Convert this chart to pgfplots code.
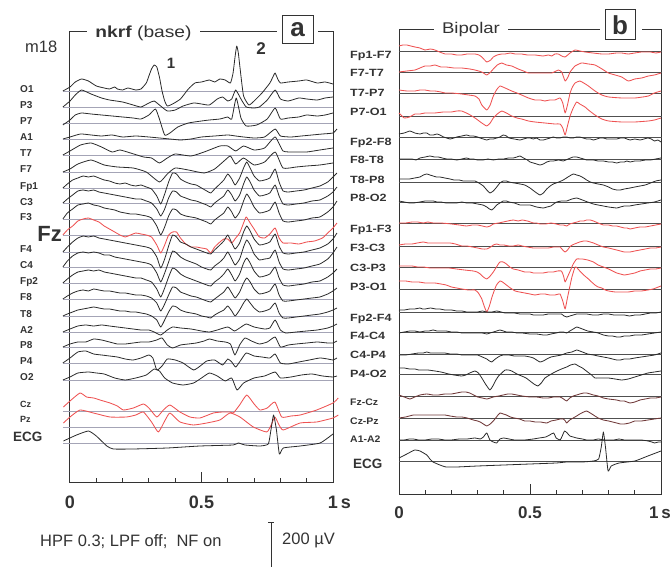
\documentclass[border=0pt]{standalone}
\usepackage{pgfplots}
\pgfplotsset{compat=1.18}
\usepackage{fontspec}
\setmainfont{Liberation Sans}
\definecolor{trcol}{HTML}{2A2A2A}
\definecolor{rdcol}{HTML}{EE5252}
\definecolor{blcol}{HTML}{A4A4B6}
\definecolor{bkcol}{HTML}{505050}
\definecolor{ax}{HTML}{333333}
\newcommand{\fs}[1]{\fontsize{#1}{#1}\selectfont}
\begin{document}
\begin{tikzpicture}[
  lab/.style={font=\bfseries\fs{10}, anchor=base west, inner sep=0pt, text=ax},
  rlab/.style={font=\bfseries\fs{10.5}, anchor=base west, inner sep=0pt, text=ax},
]
\useasboundingbox (0pt,0pt) rectangle (672pt,567pt);
\pgfplotsset{
  eeg/.style={scale only axis, xmin=0, xmax=1, clip=false,
    axis line style={ax, line width=1pt},
    xtick={0,0.5,1}, minor xtick={0.1,0.2,0.3,0.4,0.6,0.7,0.8,0.9},
    ytick=\empty, tick align=inside, xtick pos=bottom,
    major tick length=11pt, minor tick length=5pt,
    every tick/.style={ax, line width=1pt},
    /pgf/number format/assume math mode=true},
  off/.style={y filter/.expression={y-#1}},
  Ltr/.style={trcol, line width=0.8pt, line join=round, smooth, tension=0.3},
  Lrd/.style={rdcol, line width=0.85pt, line join=round, smooth, tension=0.3},
  Lmx/.style={trcol!65!rdcol, line width=0.85pt, line join=round, smooth, tension=0.3},
}
% ================= LEFT PANEL =================
\begin{axis}[eeg, at={(70pt,84pt)}, anchor=south west,
  width=263pt, height=451pt, ymin=-483, ymax=-32,
  xticklabels={0,0.5,1\rlap{\,s}},
  xticklabel style={font=\bfseries\fs{18}, inner sep=0pt, yshift=-12.5pt, text=ax}]
\pgfplotsinvokeforeach{91,107,123,139,155,172,188,203,219,235,252,267,283,299,316,332,347,363,380,411,427,443}{
  \addplot[blcol, line width=0.8pt] coordinates {(-0.027,-#1) (1,-#1)};
}
% O1
\addplot[Ltr, off=91] coordinates {(-0.027,0) (0.0,4) (0.02,9) (0.044,12) (0.07,10) (0.10,5) (0.13,3) (0.15,2) (0.17,4) (0.18,2) (0.2,1) (0.22,3) (0.25,1) (0.27,2) (0.29,8) (0.30,15) (0.31,22) (0.32,26) (0.33,24) (0.34,14) (0.35,0) (0.36,-10) (0.37,-15) (0.39,-13) (0.42,-8) (0.45,2) (0.475,8) (0.5,9) (0.53,11) (0.55,9) (0.57,12) (0.59,11) (0.61,8) (0.62,18) (0.628,35) (0.634,45) (0.64,38) (0.65,15) (0.66,-5) (0.68,-14) (0.70,-10) (0.73,-2) (0.76,8) (0.775,16) (0.78,18) (0.79,12) (0.80,8) (0.83,9) (0.87,10) (0.9,11) (0.94,8) (0.97,9) (1.0,7)};
% P3
\addplot[Ltr, off=107] coordinates {(-0.027,0) (0.0,6) (0.02,12) (0.044,17) (0.08,13) (0.12,9) (0.15,7) (0.2,5) (0.24,2) (0.27,0) (0.3,4) (0.32,6) (0.34,2) (0.37,-4) (0.40,-3) (0.43,1) (0.47,4) (0.5,3) (0.53,2) (0.56,8) (0.58,10) (0.60,6) (0.615,8) (0.63,17) (0.65,8) (0.67,0) (0.70,-1) (0.72,0) (0.75,7) (0.78,17) (0.80,8) (0.83,6) (0.87,9) (0.9,8) (0.94,7) (0.97,9) (1.0,10)};
% P7
\addplot[Ltr, off=123] coordinates {(-0.027,-2) (0.0,3) (0.02,8) (0.044,10) (0.08,9) (0.12,8) (0.16,7) (0.2,6) (0.24,5) (0.27,4) (0.30,8) (0.325,14) (0.34,4) (0.36,-12) (0.38,-10) (0.41,-4) (0.45,0) (0.5,2) (0.53,3) (0.57,4) (0.60,6) (0.615,4) (0.632,25) (0.65,5) (0.67,-3) (0.71,-2) (0.75,4) (0.78,15) (0.80,4) (0.83,5) (0.87,6) (0.9,8) (0.94,7) (0.97,8) (1.0,10)};
% A1
\addplot[Ltr, off=139] coordinates {(-0.027,0) (0.0,2) (0.04,5) (0.08,4) (0.12,3) (0.16,4) (0.2,2) (0.25,3) (0.3,2) (0.34,1) (0.38,0) (0.42,-1) (0.46,0) (0.5,2) (0.55,3) (0.6,4) (0.63,3) (0.66,2) (0.7,1) (0.74,2) (0.78,10) (0.80,3) (0.84,2) (0.88,3) (0.92,4) (0.96,5) (1.0,6) (1.015,10)};
% T7
\addplot[Ltr, off=155] coordinates {(-0.027,0) (0.0,4) (0.04,10) (0.08,12) (0.12,8) (0.16,3) (0.19,5) (0.23,2) (0.28,-2) (0.31,-3) (0.34,-8) (0.37,-3) (0.40,1) (0.46,-1) (0.51,3) (0.57,9) (0.6,9) (0.63,4) (0.66,9) (0.70,5) (0.74,7) (0.78,18) (0.81,4) (0.85,3) (0.9,3) (0.95,5) (1.0,7)};
% F7
\addplot[Ltr, off=172] coordinates {(-0.027,0) (0.0,3) (0.03,8) (0.08,12) (0.13,7) (0.18,5) (0.24,4) (0.29,0) (0.34,-10) (0.37,-2) (0.40,4) (0.45,2) (0.51,-1) (0.55,3) (0.59,12) (0.61,16) (0.63,8) (0.66,14) (0.70,7) (0.74,10) (0.78,20) (0.81,4) (0.86,5) (0.9,6) (0.95,7) (1.0,9)};
% Fp1
\addplot[Ltr, off=188] coordinates {(-0.027,0) (-0.01,4) (0.01,8) (0.03,10) (0.05,12) (0.07,11) (0.09,12) (0.11,10) (0.13,8) (0.15,7) (0.17,5) (0.19,4) (0.21,5) (0.23,3) (0.25,2) (0.27,3) (0.29,1) (0.31,-1) (0.33,-8) (0.345,-16) (0.36,-6) (0.375,6) (0.39,15) (0.405,14) (0.42,9) (0.44,6) (0.46,4) (0.48,3) (0.50,0) (0.52,-3) (0.535,-5) (0.55,-1) (0.57,4) (0.585,8) (0.60,14) (0.615,9) (0.628,3) (0.645,10) (0.66,20) (0.672,26) (0.685,20) (0.70,12) (0.72,7) (0.74,8) (0.76,10) (0.78,19) (0.795,6) (0.81,-3) (0.83,-4) (0.86,-3) (0.89,-2) (0.92,0) (0.95,2) (0.98,6) (1.0,11) (1.015,15)};
% C3
\addplot[Ltr, off=203] coordinates {(-0.027,0) (-0.01,4) (0.01,8) (0.03,12) (0.05,13) (0.07,12) (0.09,13) (0.11,11) (0.13,10) (0.15,9) (0.17,8) (0.19,7) (0.21,6) (0.23,5) (0.25,4) (0.27,4) (0.29,2) (0.31,0) (0.33,-6) (0.345,-13) (0.36,-6) (0.375,5) (0.39,12) (0.405,11) (0.42,7) (0.44,5) (0.46,3) (0.48,2) (0.50,0) (0.52,-2) (0.535,-4) (0.55,0) (0.57,4) (0.585,7) (0.60,13) (0.615,8) (0.628,2) (0.645,8) (0.66,19) (0.672,26) (0.685,21) (0.70,13) (0.72,7) (0.74,8) (0.76,10) (0.78,18) (0.795,7) (0.81,-1) (0.83,-2) (0.86,-1) (0.89,0) (0.92,2) (0.95,3) (0.98,7) (1.0,11) (1.015,16)};
% F3
\addplot[Ltr, off=219] coordinates {(-0.027,0) (-0.01,6) (0.01,10) (0.03,14) (0.05,15) (0.07,16) (0.09,14) (0.11,13) (0.13,11) (0.15,10) (0.17,9) (0.19,7) (0.21,6) (0.23,5) (0.25,5) (0.27,4) (0.29,3) (0.31,1) (0.33,-7) (0.345,-16) (0.36,-8) (0.375,3) (0.39,10) (0.405,9) (0.42,5) (0.44,3) (0.46,2) (0.48,1) (0.50,-1) (0.52,-3) (0.535,-5) (0.55,-1) (0.57,3) (0.585,6) (0.60,12) (0.615,7) (0.628,1) (0.645,7) (0.66,18) (0.672,25) (0.685,20) (0.70,12) (0.72,6) (0.74,7) (0.76,9) (0.78,17) (0.795,6) (0.81,-2) (0.83,-3) (0.86,-2) (0.89,-1) (0.92,1) (0.95,2) (0.98,7) (1.0,12) (1.015,18)};
% Fz (red)
\addplot[Lrd, off=235] coordinates {(-0.027,0) (-0.01,5) (0.01,9) (0.03,14) (0.05,16) (0.07,17) (0.09,15) (0.11,13) (0.13,9) (0.15,6) (0.17,3) (0.19,0) (0.21,-2) (0.23,0) (0.25,2) (0.27,1) (0.29,0) (0.31,-2) (0.33,-10) (0.345,-18) (0.36,-10) (0.375,0) (0.39,3) (0.405,3) (0.42,-3) (0.44,-9) (0.46,-12) (0.48,-12) (0.50,-13) (0.52,-14) (0.535,-18) (0.55,-12) (0.57,-7) (0.585,-4) (0.60,-4) (0.615,-8) (0.63,-3) (0.645,2) (0.66,12) (0.67,18) (0.685,12) (0.70,6) (0.72,-2) (0.74,-3) (0.76,1) (0.78,7) (0.795,-3) (0.81,-8) (0.84,-8) (0.87,-9) (0.9,-7) (0.93,-6) (0.96,-3) (0.98,2) (1.0,7) (1.015,12)};
% F4
\addplot[Ltr, off=252] coordinates {(-0.027,0) (-0.01,5) (0.01,10) (0.03,14) (0.05,16) (0.07,15) (0.09,16) (0.11,14) (0.13,13) (0.15,12) (0.17,11) (0.19,10) (0.21,9) (0.23,8) (0.25,7) (0.27,6) (0.29,5) (0.31,3) (0.33,-5) (0.345,-16) (0.36,-7) (0.375,6) (0.39,17) (0.405,15) (0.42,10) (0.44,8) (0.46,5) (0.48,3) (0.50,1) (0.52,-1) (0.535,-2) (0.55,2) (0.57,7) (0.585,11) (0.60,17) (0.615,9) (0.628,3) (0.645,9) (0.66,20) (0.672,26) (0.685,21) (0.70,13) (0.72,7) (0.74,8) (0.76,10) (0.78,18) (0.795,6) (0.81,-1) (0.83,-2) (0.86,-1) (0.89,0) (0.92,2) (0.95,4) (0.98,8) (1.0,13) (1.015,19)};
% C4
\addplot[Ltr, off=267] coordinates {(-0.027,0) (-0.01,6) (0.01,11) (0.03,14) (0.05,15) (0.07,14) (0.09,15) (0.11,14) (0.13,12) (0.15,12) (0.17,10) (0.19,9) (0.21,8) (0.23,7) (0.25,6) (0.27,5) (0.29,4) (0.31,2) (0.33,-6) (0.345,-15) (0.36,-6) (0.375,5) (0.39,16) (0.405,14) (0.42,10) (0.44,7) (0.46,5) (0.48,3) (0.50,0) (0.52,-2) (0.535,-3) (0.55,1) (0.57,5) (0.585,9) (0.60,15) (0.615,8) (0.628,2) (0.645,8) (0.66,20) (0.672,27) (0.685,22) (0.70,13) (0.72,7) (0.74,8) (0.76,9) (0.78,17) (0.795,5) (0.81,-2) (0.83,-3) (0.86,-2) (0.89,-1) (0.92,1) (0.95,3) (0.98,8) (1.0,14) (1.015,20)};
% Fp2
\addplot[Ltr, off=283] coordinates {(-0.027,0) (-0.01,4) (0.01,8) (0.03,11) (0.05,12) (0.07,13) (0.09,12) (0.11,13) (0.13,11) (0.15,10) (0.17,9) (0.19,8) (0.21,7) (0.23,6) (0.25,5) (0.27,5) (0.29,3) (0.31,1) (0.33,-6) (0.345,-14) (0.36,-5) (0.375,6) (0.39,15) (0.405,13) (0.42,9) (0.44,6) (0.46,4) (0.48,2) (0.50,0) (0.52,-2) (0.535,-3) (0.55,1) (0.57,5) (0.585,9) (0.60,14) (0.615,8) (0.628,2) (0.645,9) (0.66,20) (0.672,25) (0.685,20) (0.70,12) (0.72,6) (0.74,7) (0.76,9) (0.78,16) (0.795,5) (0.81,-2) (0.83,-3) (0.86,-2) (0.89,-1) (0.92,1) (0.95,2) (0.98,6) (1.0,10) (1.015,14)};
% F8
\addplot[Ltr, off=299] coordinates {(-0.027,0) (-0.01,3) (0.01,6) (0.03,8) (0.05,9) (0.07,8) (0.09,10) (0.11,9) (0.13,8) (0.15,8) (0.17,7) (0.19,6) (0.21,6) (0.23,5) (0.25,4) (0.27,4) (0.29,3) (0.31,1) (0.33,-4) (0.345,-12) (0.36,-5) (0.375,4) (0.39,12) (0.405,11) (0.42,7) (0.44,5) (0.46,3) (0.48,2) (0.50,0) (0.52,-2) (0.535,-3) (0.55,0) (0.57,4) (0.585,7) (0.60,12) (0.615,6) (0.628,1) (0.645,7) (0.66,16) (0.672,21) (0.685,17) (0.70,10) (0.72,5) (0.74,6) (0.76,8) (0.78,15) (0.795,4) (0.81,-2) (0.83,-2) (0.86,-1) (0.89,0) (0.92,1) (0.95,2) (0.98,5) (1.0,8) (1.015,11)};
% T8
\addplot[Ltr, off=316] coordinates {(-0.027,0) (-0.01,2) (0.01,4) (0.03,6) (0.05,7) (0.07,8) (0.09,9) (0.11,8) (0.13,7) (0.15,7) (0.17,6) (0.19,5) (0.21,5) (0.23,4) (0.25,4) (0.27,3) (0.29,2) (0.31,0) (0.33,-4) (0.345,-11) (0.36,-4) (0.375,4) (0.39,10) (0.405,9) (0.42,6) (0.44,4) (0.46,3) (0.48,2) (0.50,0) (0.52,-1) (0.535,-2) (0.55,1) (0.57,4) (0.585,6) (0.60,10) (0.615,5) (0.628,0) (0.645,6) (0.66,13) (0.672,17) (0.685,13) (0.70,8) (0.72,4) (0.74,5) (0.76,7) (0.78,13) (0.795,3) (0.81,-2) (0.83,-2) (0.86,-1) (0.89,0) (0.92,1) (0.95,2) (0.98,4) (1.0,6) (1.015,8)};
% A2
\addplot[Ltr, off=332] coordinates {(-0.027,0) (0.0,3) (0.03,6) (0.06,7) (0.09,6) (0.12,7) (0.15,6) (0.18,5) (0.21,4) (0.24,3) (0.27,2) (0.30,2) (0.32,0) (0.345,-3) (0.37,2) (0.39,5) (0.42,4) (0.46,3) (0.50,1) (0.53,0) (0.56,2) (0.6,5) (0.625,1) (0.645,4) (0.67,8) (0.70,5) (0.74,3) (0.76,4) (0.78,12) (0.80,2) (0.82,-1) (0.86,0) (0.9,1) (0.94,2) (0.98,4) (1.0,6) (1.015,8)};
% P8
\addplot[Ltr, off=347] coordinates {(-0.027,0) (0.0,3) (0.03,5) (0.06,5) (0.09,8) (0.12,7) (0.15,5) (0.18,3) (0.21,3) (0.24,4) (0.27,5) (0.30,5) (0.33,7) (0.35,9) (0.37,2) (0.39,-1) (0.42,2) (0.45,3) (0.48,4) (0.51,6) (0.53,8) (0.56,6) (0.59,5) (0.61,3) (0.627,-8) (0.645,2) (0.665,9) (0.69,6) (0.72,3) (0.75,5) (0.78,10) (0.80,0) (0.83,2) (0.86,3) (0.9,4) (0.94,5) (0.98,4) (1.0,4) (1.015,6)};
% P4
\addplot[Ltr, off=363] coordinates {(-0.027,0) (0.0,5) (0.03,11) (0.06,12) (0.09,9) (0.12,8) (0.15,7) (0.18,6) (0.21,4) (0.24,3) (0.27,5) (0.30,8) (0.315,5) (0.33,-7) (0.35,-3) (0.37,4) (0.40,3) (0.43,0) (0.47,-7) (0.50,-2) (0.52,2) (0.55,3) (0.58,-2) (0.60,4) (0.615,1) (0.63,-4) (0.65,3) (0.67,10) (0.70,7) (0.73,6) (0.76,5) (0.78,9) (0.80,0) (0.83,-1) (0.87,1) (0.91,3) (0.95,5) (0.98,4) (1.0,3) (1.015,5)};
% O2
\addplot[Ltr, off=380] coordinates {(-0.027,0) (0.0,3) (0.03,7) (0.07,8) (0.10,7) (0.13,6) (0.17,2) (0.21,0) (0.25,2) (0.29,5) (0.32,11) (0.34,9) (0.36,2) (0.39,-3) (0.43,-5) (0.47,-3) (0.50,2) (0.53,7) (0.56,4) (0.59,-1) (0.615,2) (0.635,-10) (0.66,-3) (0.70,2) (0.74,4) (0.78,8) (0.80,2) (0.84,3) (0.88,5) (0.92,6) (0.96,4) (1.0,3) (1.015,4)};
% Cz (red)
\addplot[Lrd, off=411] coordinates {(-0.025,4) (0.0,10) (0.038,18) (0.063,14) (0.09,13) (0.114,11) (0.152,8) (0.18,5) (0.203,1) (0.241,3) (0.279,7) (0.30,3) (0.33,-6) (0.355,1) (0.38,6) (0.418,-1) (0.456,-6) (0.494,-7) (0.545,-2) (0.58,-1) (0.608,-1) (0.621,-2) (0.645,6) (0.672,16) (0.70,7) (0.722,1) (0.75,3) (0.779,9) (0.805,-6) (0.84,-5) (0.875,-4) (0.938,1) (1.0,8) (1.02,13)};
% Pz (red)
\addplot[Lrd, off=427] coordinates {(-0.025,4) (0.0,10) (0.038,17) (0.089,14) (0.152,10) (0.215,10) (0.25,12) (0.279,15) (0.31,5) (0.336,-5) (0.36,6) (0.38,14) (0.418,5) (0.469,2) (0.52,4) (0.57,7) (0.608,14) (0.646,10) (0.697,0) (0.748,-5) (0.765,2) (0.779,10) (0.795,2) (0.811,-3) (0.875,4) (0.938,5) (1.0,9) (1.02,12)};
% ECG
\addplot[Ltr, off=443] coordinates {(-0.025,2) (0.025,8) (0.07,12) (0.10,7) (0.14,-3) (0.165,-6) (0.24,-6) (0.37,-5) (0.494,-3) (0.62,-2) (0.64,0) (0.665,-2) (0.722,-3) (0.754,-1) (0.764,13) (0.774,28) (0.785,13) (0.796,-11) (0.811,-5) (0.875,-3) (0.951,0) (1.0,9)};
% labels
\node[lab] at (axis cs:-0.19,-92.5) {O1};
\node[lab] at (axis cs:-0.19,-108.5) {P3};
\node[lab] at (axis cs:-0.19,-124.5) {P7};
\node[lab] at (axis cs:-0.19,-140.5) {A1};
\node[lab] at (axis cs:-0.19,-156.5) {T7};
\node[lab] at (axis cs:-0.19,-172.5) {F7};
\node[lab] at (axis cs:-0.19,-189.5) {Fp1};
\node[lab] at (axis cs:-0.19,-205.5) {C3};
\node[lab] at (axis cs:-0.19,-220.5) {F3};
\node[lab, font=\bfseries\fs{22}] at (axis cs:-0.125,-242) {Fz};
\node[lab] at (axis cs:-0.19,-252.5) {F4};
\node[lab] at (axis cs:-0.19,-268.5) {C4};
\node[lab] at (axis cs:-0.19,-284.5) {Fp2};
\node[lab] at (axis cs:-0.19,-300.5) {F8};
\node[lab] at (axis cs:-0.19,-317.5) {T8};
\node[lab] at (axis cs:-0.19,-333.5) {A2};
\node[lab] at (axis cs:-0.19,-348.5) {P8};
\node[lab] at (axis cs:-0.19,-364.5) {P4};
\node[lab] at (axis cs:-0.19,-380.5) {O2};
\node[lab, font=\bfseries\fs{9}] at (axis cs:-0.19,-408) {Cz};
\node[lab, font=\bfseries\fs{9}] at (axis cs:-0.19,-423) {Pz};
\node[lab, font=\bfseries\fs{13.5}] at (axis cs:-0.217,-442) {ECG};
\end{axis}
% ================= RIGHT PANEL =================
\begin{axis}[eeg, at={(399pt,72pt)}, anchor=south west,
  width=262pt, height=465pt, ymin=-495, ymax=-30,
  xticklabels={0,0.5,{}},
  xticklabel style={font=\bfseries\fs{17}, inner sep=0pt, yshift=-11.5pt, text=ax}]
\pgfplotsinvokeforeach{51,72,93,116,137,159,182,202,223,246,267,289,312,332,354,374,396,418,440,461}{
  \addplot[bkcol, line width=0.75pt] coordinates {(0,-#1) (1.004,-#1)};
}
% Fp1-F7
\addplot[Lrd, off=51] coordinates {(0,5) (0.015,6) (0.03,6) (0.045,5) (0.061,4) (0.08,3) (0.099,1) (0.12,2) (0.137,1) (0.155,-1) (0.176,-3) (0.2,-3) (0.22,-4) (0.239,-4) (0.26,-3) (0.29,-3) (0.305,-4) (0.316,-6) (0.335,-11) (0.35,-9) (0.36,-6) (0.375,-4) (0.392,-3) (0.405,-3) (0.425,-2) (0.443,-3) (0.468,-3) (0.49,-4) (0.519,-4) (0.55,-5) (0.57,-4) (0.583,-5) (0.595,-3) (0.608,-3) (0.621,-5) (0.634,-6) (0.653,-2) (0.672,1) (0.69,0) (0.71,-1) (0.74,-2) (0.774,-3) (0.80,-3) (0.83,-2) (0.85,-2) (0.875,-3) (0.9,-2) (0.926,-1) (0.96,-1) (0.98,-2) (1.0,-1)};
% F7-T7
\addplot[Lrd, off=72] coordinates {(0,0) (0.03,1) (0.061,2) (0.08,4) (0.099,6) (0.12,6) (0.137,7) (0.16,5) (0.18,5) (0.21,4) (0.239,4) (0.27,3) (0.29,2) (0.316,0) (0.335,-3) (0.35,0) (0.36,3) (0.375,7) (0.392,9) (0.41,7) (0.43,6) (0.455,3) (0.475,1) (0.494,-1) (0.53,-1) (0.56,-1) (0.583,-1) (0.6,1) (0.608,2) (0.621,0) (0.634,-9) (0.645,-5) (0.653,0) (0.672,6) (0.697,9) (0.723,8) (0.748,7) (0.775,3) (0.799,-1) (0.825,-3) (0.85,-5) (0.875,-9) (0.9,-7) (0.926,-6) (0.952,-4) (0.975,-3) (1.0,-1)};
% T7-P7
\addplot[Lrd, off=93] coordinates {(0,3) (0.03,2) (0.061,2) (0.08,3) (0.099,3) (0.12,2) (0.137,2) (0.16,1) (0.176,0) (0.2,0) (0.239,-1) (0.265,-2) (0.29,-3) (0.305,-6) (0.316,-12) (0.335,-17) (0.348,-12) (0.36,-3) (0.372,3) (0.385,7) (0.405,5) (0.43,2) (0.45,0) (0.468,-2) (0.494,-5) (0.519,-7) (0.54,-7) (0.557,-8) (0.575,-7) (0.595,-7) (0.615,-5) (0.625,-10) (0.634,-20) (0.643,-12) (0.653,0) (0.662,6) (0.672,10) (0.69,12) (0.705,10) (0.723,7) (0.748,2) (0.774,-2) (0.80,-4) (0.85,-5) (0.9,-5) (0.93,-4) (0.952,-3) (0.975,0) (1.0,2)};
% P7-O1
\addplot[Lrd, off=116] coordinates {(0,3) (0.02,-2) (0.04,-1) (0.061,2) (0.08,2) (0.099,3) (0.12,3) (0.137,3) (0.17,4) (0.2,4) (0.22,5) (0.239,5) (0.265,2) (0.29,-2) (0.316,-7) (0.335,-10) (0.348,-7) (0.36,-2) (0.375,2) (0.392,5) (0.41,3) (0.43,0) (0.45,-2) (0.468,-3) (0.494,-5) (0.519,-6) (0.557,-7) (0.595,-8) (0.615,-8) (0.625,-12) (0.634,-19) (0.643,-10) (0.653,0) (0.665,8) (0.678,14) (0.69,12) (0.71,9) (0.723,6) (0.748,1) (0.774,-3) (0.80,-5) (0.85,-6) (0.9,-6) (0.952,-5) (0.975,-4) (1.0,-2)};
% Fp2-F8
\addplot[Ltr, off=137] coordinates {(0,3) (0.02,4) (0.042,6) (0.06,4) (0.08,3) (0.093,4) (0.106,4) (0.118,2) (0.131,2) (0.145,3) (0.156,2) (0.17,0) (0.182,-1) (0.195,-2) (0.21,-1) (0.22,0) (0.24,1) (0.258,2) (0.27,1) (0.284,1) (0.3,0) (0.309,-1) (0.322,-2) (0.335,-3) (0.347,-2) (0.36,-2) (0.373,-1) (0.385,0) (0.398,2) (0.41,1) (0.42,-1) (0.44,-2) (0.462,-3) (0.475,-2) (0.49,-1) (0.5,-1) (0.513,-2) (0.525,-1) (0.538,-3) (0.551,-3) (0.564,-2) (0.577,-1) (0.589,0) (0.602,-1) (0.615,-1) (0.627,0) (0.64,0) (0.653,-1) (0.665,-1) (0.678,0) (0.69,0) (0.703,-1) (0.716,-2) (0.73,-2) (0.742,-3) (0.755,-2) (0.767,-1) (0.78,-1) (0.793,-2) (0.81,-2) (0.831,-2) (0.845,-1) (0.86,-1) (0.87,-2) (0.882,-3) (0.9,-2) (0.92,-3) (0.935,-2) (0.95,-1) (0.963,-2) (0.975,-4) (0.988,-3) (1.0,-5)};
% F8-T8
\addplot[Ltr, off=159] coordinates {(0,0) (0.025,0) (0.05,0) (0.065,-1) (0.08,1) (0.1,2) (0.118,3) (0.135,2) (0.15,2) (0.165,1) (0.182,0) (0.2,0) (0.22,-1) (0.24,0) (0.258,1) (0.27,0) (0.284,0) (0.3,-1) (0.32,-1) (0.34,0) (0.36,-1) (0.38,0) (0.4,0) (0.418,1) (0.436,1) (0.45,2) (0.462,3) (0.475,1) (0.49,-1) (0.5,-3) (0.513,-4) (0.525,-5) (0.538,-6) (0.551,-5) (0.564,-3) (0.577,-2) (0.589,-2) (0.61,-1) (0.627,-2) (0.645,0) (0.665,2) (0.678,2) (0.691,1) (0.705,0) (0.716,-1) (0.73,-1) (0.742,-1) (0.76,-2) (0.78,-2) (0.8,-3) (0.815,-3) (0.831,-4) (0.845,-3) (0.86,-3) (0.87,-2) (0.882,-3) (0.9,-2) (0.92,-2) (0.94,-1) (0.96,-1) (0.98,0) (1.0,1)};
% T8-P8
\addplot[Ltr, off=182] coordinates {(0,3) (0.02,3) (0.04,3) (0.06,4) (0.08,5) (0.093,7) (0.106,8) (0.118,7) (0.13,6) (0.143,5) (0.156,5) (0.175,4) (0.195,3) (0.21,2) (0.23,2) (0.245,1) (0.258,1) (0.275,1) (0.29,1) (0.305,-1) (0.322,-4) (0.335,-8) (0.347,-11) (0.36,-9) (0.373,-5) (0.385,-1) (0.398,1) (0.41,1) (0.42,0) (0.44,-1) (0.462,-2) (0.48,-3) (0.5,-6) (0.52,-10) (0.538,-13) (0.551,-11) (0.564,-7) (0.577,-4) (0.589,-2) (0.61,0) (0.627,2) (0.645,5) (0.665,8) (0.678,7) (0.691,6) (0.705,4) (0.716,2) (0.73,0) (0.742,-1) (0.76,-2) (0.78,-3) (0.8,-5) (0.815,-7) (0.831,-8) (0.845,-8) (0.86,-7) (0.882,-6) (0.9,-5) (0.92,-4) (0.94,-3) (0.96,-1) (0.98,1) (1.0,2)};
% P8-O2
\addplot[Ltr, off=202] coordinates {(0,1) (0.02,0) (0.04,-1) (0.055,-1) (0.08,0) (0.1,1) (0.115,1) (0.131,1) (0.145,0) (0.16,0) (0.18,-1) (0.2,-1) (0.22,-1) (0.24,0) (0.258,-1) (0.28,-1) (0.3,-2) (0.32,-3) (0.335,-5) (0.345,-7) (0.354,-8) (0.363,-6) (0.373,-3) (0.385,-1) (0.398,1) (0.41,1) (0.42,0) (0.44,-1) (0.462,-3) (0.48,-3) (0.5,-3) (0.525,-5) (0.551,-6) (0.565,-5) (0.58,-4) (0.59,-2) (0.602,0) (0.62,1) (0.64,1) (0.66,3) (0.678,4) (0.69,3) (0.7,2) (0.72,0) (0.742,-2) (0.76,-3) (0.78,-4) (0.8,-5) (0.831,-6) (0.845,-5) (0.86,-4) (0.88,-4) (0.9,-3) (0.925,-2) (0.95,-1) (0.975,0) (1.0,2)};
% Fp1-F3
\addplot[Lrd, off=223] coordinates {(0,0) (0.025,0) (0.05,1) (0.07,1) (0.093,0) (0.11,1) (0.13,0) (0.16,0) (0.2,-1) (0.23,-2) (0.258,-3) (0.28,-2) (0.3,-2) (0.318,-3) (0.335,-4) (0.348,-3) (0.36,-1) (0.38,0) (0.398,1) (0.415,2) (0.436,3) (0.455,2) (0.47,3) (0.49,2) (0.513,0) (0.525,0) (0.538,-1) (0.56,-1) (0.58,0) (0.6,-1) (0.615,-2) (0.628,-2) (0.64,-3) (0.652,-1) (0.665,0) (0.68,1) (0.691,2) (0.705,2) (0.716,3) (0.73,3) (0.742,2) (0.76,0) (0.78,-2) (0.8,-2) (0.815,-3) (0.831,-3) (0.845,-4) (0.86,-5) (0.87,-5) (0.882,-6) (0.9,-5) (0.92,-4) (0.94,-4) (0.96,-3) (0.98,-2) (1.0,-1)};
% F3-C3
\addplot[Lrd, off=246] coordinates {(0,1) (0.025,2) (0.05,2) (0.07,3) (0.093,4) (0.11,3) (0.13,3) (0.16,3) (0.195,3) (0.215,2) (0.24,0) (0.26,0) (0.28,-1) (0.3,-2) (0.318,-3) (0.335,-3) (0.35,-1) (0.36,1) (0.373,2) (0.385,1) (0.4,1) (0.42,0) (0.436,0) (0.455,1) (0.47,0) (0.49,-1) (0.513,-2) (0.53,-2) (0.55,-2) (0.57,-2) (0.59,-1) (0.605,-1) (0.615,-1) (0.625,-4) (0.634,-6) (0.643,-4) (0.655,0) (0.67,2) (0.69,4) (0.705,5) (0.716,5) (0.73,4) (0.742,3) (0.76,1) (0.78,-1) (0.8,-2) (0.815,-3) (0.831,-4) (0.845,-5) (0.86,-6) (0.882,-6) (0.9,-5) (0.92,-4) (0.94,-3) (0.96,-2) (0.98,-2) (1.0,-1)};
% C3-P3
\addplot[Lrd, off=267] coordinates {(0,1) (0.025,1) (0.05,1) (0.07,0) (0.093,0) (0.12,-1) (0.156,-1) (0.19,-1) (0.22,-2) (0.25,-3) (0.284,-4) (0.298,-5) (0.31,-7) (0.322,-10) (0.335,-12) (0.348,-9) (0.36,-5) (0.372,0) (0.385,5) (0.398,5) (0.41,3) (0.423,0) (0.436,-2) (0.455,-3) (0.48,-5) (0.5,-5) (0.513,-6) (0.53,-6) (0.55,-6) (0.57,-5) (0.589,-5) (0.605,-4) (0.62,-4) (0.628,-9) (0.634,-15) (0.643,-10) (0.655,-3) (0.665,3) (0.678,8) (0.69,8) (0.7,8) (0.72,7) (0.742,5) (0.76,2) (0.78,0) (0.8,-2) (0.815,-4) (0.831,-6) (0.845,-7) (0.86,-8) (0.882,-7) (0.9,-6) (0.92,-4) (0.94,-3) (0.96,-2) (0.98,-2) (1.0,-1)};
% P3-O1
\addplot[Lrd, off=289] coordinates {(0,8) (0.025,8) (0.05,7) (0.075,7) (0.1,6) (0.12,6) (0.137,6) (0.16,5) (0.18,4) (0.2,2) (0.22,1) (0.24,0) (0.265,-1) (0.29,-1) (0.303,-4) (0.316,-10) (0.325,-17) (0.335,-23) (0.345,-17) (0.355,-8) (0.363,-2) (0.372,4) (0.385,8) (0.395,7) (0.41,4) (0.425,1) (0.443,-2) (0.46,-3) (0.48,-4) (0.5,-5) (0.519,-6) (0.54,-5) (0.557,-5) (0.575,-6) (0.595,-6) (0.61,-5) (0.615,-5) (0.625,-12) (0.634,-20) (0.642,-10) (0.65,0) (0.66,12) (0.672,22) (0.68,21) (0.69,18) (0.705,14) (0.723,10) (0.735,7) (0.748,4) (0.76,2) (0.774,1) (0.787,-1) (0.80,-2) (0.825,-3) (0.85,-3) (0.875,-3) (0.9,-2) (0.925,-2) (0.95,-1) (0.97,0) (0.99,2) (1.0,3)};
% Fp2-F4
\addplot[Ltr, off=312] coordinates {(0,2) (0.02,2) (0.042,3) (0.06,3) (0.08,4) (0.09,3) (0.1,3) (0.12,4) (0.14,3) (0.156,3) (0.175,2) (0.2,2) (0.22,1) (0.24,1) (0.258,0) (0.28,0) (0.3,0) (0.318,1) (0.335,0) (0.355,0) (0.373,1) (0.39,0) (0.405,-1) (0.42,-1) (0.44,-1) (0.462,-2) (0.48,-2) (0.5,-2) (0.513,-3) (0.53,-3) (0.55,-3) (0.57,-2) (0.59,-2) (0.605,-2) (0.62,-2) (0.63,-4) (0.64,-5) (0.652,-4) (0.665,-3) (0.678,-2) (0.69,-2) (0.705,-2) (0.716,-2) (0.74,-3) (0.76,-3) (0.78,-2) (0.8,-2) (0.82,-3) (0.84,-3) (0.86,-3) (0.88,-4) (0.9,-3) (0.92,-3) (0.94,-2) (0.96,-1) (0.98,-1) (1.0,0)};
% F4-C4
\addplot[Ltr, off=332] coordinates {(0,-1) (0.02,0) (0.042,1) (0.06,1) (0.08,0) (0.1,1) (0.115,1) (0.13,2) (0.145,1) (0.16,1) (0.18,1) (0.2,0) (0.22,0) (0.24,-1) (0.258,-1) (0.28,-1) (0.3,-1) (0.318,-1) (0.335,-2) (0.348,-1) (0.36,0) (0.373,1) (0.385,2) (0.398,1) (0.41,0) (0.43,0) (0.45,-1) (0.47,-1) (0.5,-2) (0.525,-2) (0.551,-3) (0.565,-3) (0.58,-2) (0.6,-1) (0.615,0) (0.628,0) (0.64,-1) (0.652,1) (0.665,3) (0.678,5) (0.69,4) (0.7,3) (0.72,1) (0.742,0) (0.76,-1) (0.78,-3) (0.8,-4) (0.815,-4) (0.831,-5) (0.845,-5) (0.86,-4) (0.88,-4) (0.9,-3) (0.925,-3) (0.95,-2) (0.975,-1) (1.0,0)};
% C4-P4
\addplot[Ltr, off=354] coordinates {(0,-1) (0.025,-1) (0.05,0) (0.075,1) (0.093,1) (0.106,2) (0.12,1) (0.15,1) (0.175,1) (0.195,0) (0.22,0) (0.24,-1) (0.258,-1) (0.28,-1) (0.3,-1) (0.318,-3) (0.335,-5) (0.345,-7) (0.354,-8) (0.363,-6) (0.373,-4) (0.385,-2) (0.398,-1) (0.42,-1) (0.44,-2) (0.46,-2) (0.48,-2) (0.5,-3) (0.513,-4) (0.525,-6) (0.538,-8) (0.551,-7) (0.564,-5) (0.58,-3) (0.6,-2) (0.62,-1) (0.64,1) (0.66,2) (0.678,4) (0.69,3) (0.7,2) (0.72,0) (0.742,-1) (0.76,-2) (0.78,-3) (0.8,-4) (0.815,-5) (0.831,-6) (0.845,-6) (0.86,-5) (0.88,-5) (0.9,-4) (0.925,-3) (0.95,-2) (0.975,-1) (1.0,1)};
% P4-O2
\addplot[Ltr, off=374] coordinates {(0,6) (0.02,6) (0.04,5) (0.061,5) (0.075,4) (0.09,4) (0.11,4) (0.137,3) (0.16,2) (0.19,0) (0.21,-1) (0.239,-2) (0.255,-1) (0.27,1) (0.29,3) (0.303,1) (0.316,-4) (0.33,-10) (0.347,-16) (0.358,-12) (0.37,-6) (0.38,-2) (0.392,1) (0.405,4) (0.418,4) (0.43,3) (0.45,0) (0.468,-2) (0.485,-4) (0.5,-7) (0.515,-10) (0.53,-12) (0.543,-9) (0.557,-4) (0.575,-1) (0.595,2) (0.62,5) (0.64,7) (0.655,9) (0.672,10) (0.685,8) (0.7,6) (0.72,2) (0.735,-1) (0.748,-4) (0.775,-4) (0.799,-4) (0.825,-5) (0.85,-6) (0.875,-5) (0.9,-3) (0.925,-1) (0.95,1) (0.975,2) (1.0,3)};
% Fz-Cz
\addplot[Lmx, off=396] coordinates {(0,1) (0.02,-1) (0.042,-3) (0.06,-1) (0.08,1) (0.106,2) (0.13,1) (0.15,1) (0.175,2) (0.2,2) (0.22,3) (0.24,4) (0.255,4) (0.27,3) (0.285,1) (0.3,-1) (0.318,-2) (0.335,-3) (0.348,-2) (0.36,-1) (0.38,0) (0.398,1) (0.415,2) (0.43,2) (0.45,1) (0.47,0) (0.5,-1) (0.525,-1) (0.55,-2) (0.57,-2) (0.59,-1) (0.615,-1) (0.628,-3) (0.64,-5) (0.652,-2) (0.665,0) (0.678,1) (0.69,2) (0.705,3) (0.716,3) (0.73,2) (0.742,1) (0.76,0) (0.78,-2) (0.8,-3) (0.831,-4) (0.845,-5) (0.86,-5) (0.87,-6) (0.882,-7) (0.9,-6) (0.92,-4) (0.94,-3) (0.96,-2) (0.98,-2) (1.0,-1)};
% Cz-Pz
\addplot[Lmx, off=418] coordinates {(0,0) (0.025,1) (0.055,3) (0.08,3) (0.1,3) (0.125,3) (0.15,3) (0.175,3) (0.195,2) (0.22,1) (0.24,1) (0.26,0) (0.284,-2) (0.3,-3) (0.31,-4) (0.322,-6) (0.335,-8) (0.348,-6) (0.36,-3) (0.372,1) (0.385,5) (0.398,4) (0.41,3) (0.425,1) (0.44,0) (0.46,-1) (0.48,-3) (0.5,-3) (0.52,-4) (0.54,-4) (0.564,-5) (0.58,-3) (0.6,-2) (0.615,-1) (0.627,-1) (0.635,-3) (0.64,-5) (0.652,-2) (0.665,0) (0.678,2) (0.69,4) (0.705,6) (0.716,7) (0.73,5) (0.742,3) (0.76,0) (0.78,-2) (0.8,-3) (0.815,-4) (0.831,-5) (0.845,-6) (0.86,-6) (0.88,-5) (0.9,-3) (0.925,-3) (0.95,-2) (0.975,-1) (1.0,0)};
% A1-A2
\addplot[Ltr, off=440] coordinates {(0,0) (0.02,0) (0.04,1) (0.055,1) (0.075,0) (0.1,0) (0.125,1) (0.15,1) (0.175,0) (0.2,0) (0.23,1) (0.26,1) (0.29,2) (0.31,1) (0.322,3) (0.335,7) (0.347,0) (0.36,-2) (0.373,-3) (0.385,1) (0.4,2) (0.42,1) (0.44,0) (0.46,0) (0.48,0) (0.513,1) (0.535,2) (0.56,3) (0.575,5) (0.59,7) (0.6,2) (0.615,0) (0.623,4) (0.632,9) (0.642,7) (0.652,4) (0.665,3) (0.678,2) (0.7,1) (0.716,0) (0.742,0) (0.76,1) (0.785,0) (0.8,0) (0.82,0) (0.84,1) (0.86,0) (0.88,0) (0.9,0) (0.925,0) (0.95,-1) (0.965,-2) (0.975,-3) (0.99,-2) (1.0,-2)};
% ECG
\addplot[Ltr, off=461] coordinates {(0,3) (0.03,7) (0.06,11) (0.08,10) (0.106,6) (0.118,2) (0.13,-1) (0.156,-4) (0.18,-6) (0.22,-6) (0.3,-5) (0.4,-4) (0.5,-3) (0.6,-2) (0.64,-1) (0.7,-1) (0.742,0) (0.762,2) (0.772,14) (0.78,29) (0.788,14) (0.798,-10) (0.81,-5) (0.84,-2) (0.9,0) (0.95,5) (1.0,10)};
% "1 s" tick label kept inside the page
\node[anchor=north east, inner sep=0pt, font=\bfseries\fs{17}, text=ax] at (axis cs:1,-495) [xshift=10pt, yshift=-11.5pt] {1\,s};
% labels
\node[rlab] at (axis cs:-0.187,-59) {\scalebox{1.2}[1]{Fp1-F7}};
\node[rlab] at (axis cs:-0.187,-77) {\scalebox{1.2}[1]{F7-T7}};
\node[rlab] at (axis cs:-0.187,-97) {\scalebox{1.2}[1]{T7-P7}};
\node[rlab] at (axis cs:-0.187,-116) {\scalebox{1.2}[1]{P7-O1}};
\node[rlab] at (axis cs:-0.187,-146) {\scalebox{1.2}[1]{Fp2-F8}};
\node[rlab] at (axis cs:-0.187,-164) {\scalebox{1.2}[1]{F8-T8}};
\node[rlab] at (axis cs:-0.187,-184) {\scalebox{1.2}[1]{T8-P8}};
\node[rlab] at (axis cs:-0.187,-202) {\scalebox{1.2}[1]{P8-O2}};
\node[rlab] at (axis cs:-0.187,-233) {\scalebox{1.2}[1]{Fp1-F3}};
\node[rlab] at (axis cs:-0.187,-252) {\scalebox{1.2}[1]{F3-C3}};
\node[rlab] at (axis cs:-0.187,-272) {\scalebox{1.2}[1]{C3-P3}};
\node[rlab] at (axis cs:-0.187,-291) {\scalebox{1.2}[1]{P3-O1}};
\node[rlab] at (axis cs:-0.187,-322) {\scalebox{1.2}[1]{Fp2-F4}};
\node[rlab] at (axis cs:-0.187,-340) {\scalebox{1.2}[1]{F4-C4}};
\node[rlab] at (axis cs:-0.187,-359) {\scalebox{1.2}[1]{C4-P4}};
\node[rlab] at (axis cs:-0.187,-378) {\scalebox{1.2}[1]{P4-O2}};
\node[rlab, font=\bfseries\fs{9.5}] at (axis cs:-0.187,-406) {\scalebox{1.1}[1]{Fz-Cz}};
\node[rlab, font=\bfseries\fs{9.5}] at (axis cs:-0.187,-425) {\scalebox{1.1}[1]{Cz-Pz}};
\node[rlab, font=\bfseries\fs{9.5}] at (axis cs:-0.187,-443) {\scalebox{1.1}[1]{A1-A2}};
\node[rlab, font=\bfseries\fs{13.5}] at (axis cs:-0.176,-469) {ECG};
\end{axis}
% ================= decorations =================
\node[fill=white, inner xsep=8pt, inner ysep=3pt, text=ax, font=\fs{16}] at (143.5pt,534pt) {\scalebox{1.2}[1]{\textbf{nkrf} (base)}};
\fill[white] (277pt,530pt) rectangle (318pt,538pt);
\node[draw=ax, line width=1pt, minimum width=31pt, minimum height=28pt, inner sep=0pt, font=\bfseries\fs{26}, text=ax] at (297.5pt,537pt) {a};
\node[anchor=west, inner sep=0pt, font=\fs{16.5}, text=ax] at (25pt,520pt) {m18};
\node[font=\bfseries\fs{15}, text=ax] at (171pt,504pt) {1};
\node[font=\bfseries\fs{17}, text=ax] at (261pt,518pt) {2};
\node[fill=white, inner xsep=8pt, inner ysep=3pt, text=ax, font=\fs{15.5}] at (471pt,537pt) {\scalebox{1.2}[1]{Bipolar}};
\fill[white] (600pt,533pt) rectangle (642pt,541pt);
\node[draw=ax, line width=1pt, minimum width=30pt, minimum height=30pt, inner sep=0pt, font=\bfseries\fs{26}, text=ax] at (620pt,542pt) {b};
\node[anchor=west, inner sep=0pt, font=\fs{16.5}, text=ax] at (40pt,25pt) {HPF 0.3; LPF off;~ NF on};
\draw[ax, line width=1pt] (271pt,44pt) -- (271pt,0pt);
\draw[ax, line width=1pt] (268pt,44pt) -- (274pt,44pt);
\node[anchor=west, inner sep=0pt, font=\fs{16.5}, text=ax] at (282pt,27pt) {200 µV};
\end{tikzpicture}
\end{document}
